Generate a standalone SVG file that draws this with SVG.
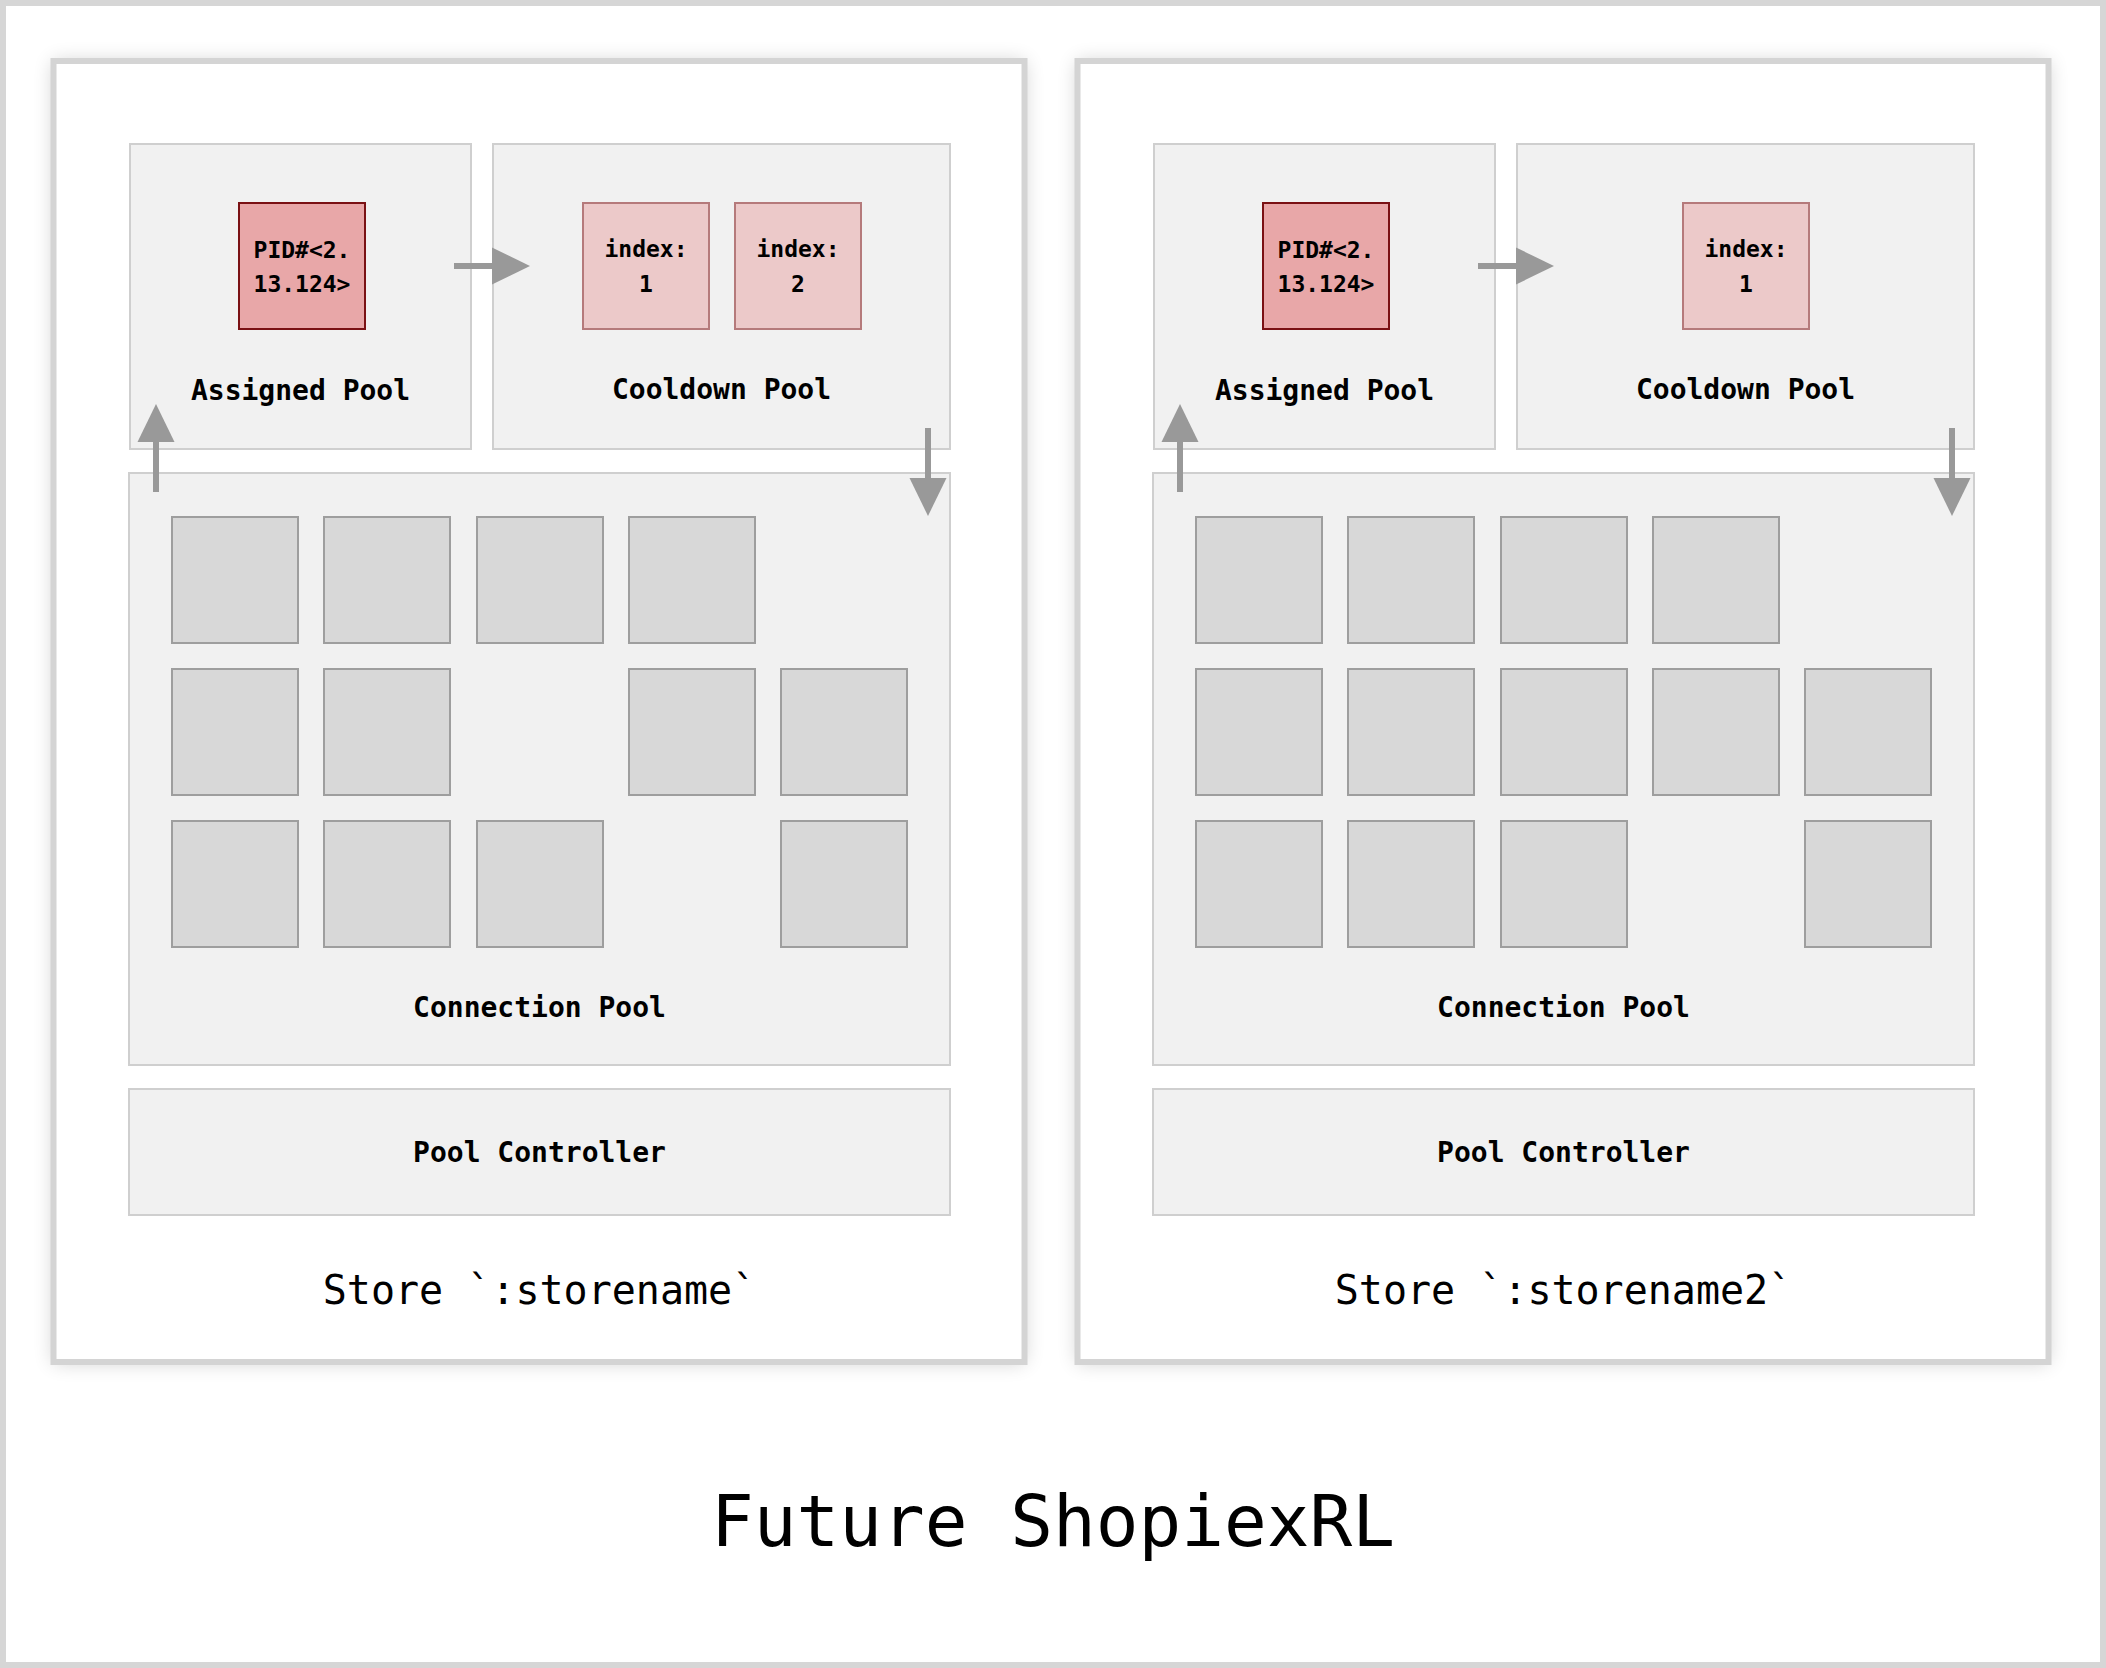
<svg xmlns="http://www.w3.org/2000/svg" width="2106" height="1668" viewBox="0 0 2106 1668">
<defs>
<style>
.pool{fill:#f1f1f1;stroke:#cfcfcf;stroke-width:2}
.cell{fill:#d8d8d8;stroke:#9e9e9e;stroke-width:2}
.pid{fill:#e8a7a8;stroke:#7a1114;stroke-width:2}
.idx{fill:#ecc9c9;stroke:#b57a7b;stroke-width:2}
.frame{fill:#ffffff;stroke:#d4d4d4;stroke-width:6}
.lbl{font-family:"DejaVu Sans Mono","Liberation Mono",monospace;font-weight:bold;font-size:28px;fill:#000;text-anchor:middle}
.sm{font-family:"DejaVu Sans Mono","Liberation Mono",monospace;font-weight:bold;font-size:23px;fill:#000;text-anchor:middle}
.store{font-family:"DejaVu Sans Mono","Liberation Mono",monospace;font-size:40px;fill:#000;text-anchor:middle}
.title{font-family:"DejaVu Sans Mono","Liberation Mono",monospace;font-size:71px;fill:#000;text-anchor:middle}
.stem{stroke:#999999;stroke-width:6;fill:none}
.head{fill:#999999}
</style>
<filter id="sh" x="-10%" y="-10%" width="120%" height="120%">
<feGaussianBlur stdDeviation="10"/>
</filter>
</defs>
<rect x="0" y="0" width="2106" height="1668" fill="#ffffff"/>
<rect x="3" y="3" width="2100" height="1662" fill="none" stroke="#d6d6d6" stroke-width="6"/>

<g id="store1">
<rect x="53" y="61" width="972" height="1302" fill="#000" opacity="0.18" filter="url(#sh)"/>
<rect class="frame" x="53.5" y="61" width="971" height="1301"/>
<text class="store" x="539.5" y="1304">Store `:storename`</text>
</g>
<g id="store2">
<rect x="1077" y="61" width="972" height="1302" fill="#000" opacity="0.18" filter="url(#sh)"/>
<rect class="frame" x="1077.5" y="61" width="971" height="1301"/>
<text class="store" x="1563.5" y="1304">Store `:storename2`</text>
</g>

<g id="assigned1">
<rect class="pool" x="130" y="144" width="341" height="305"/>
<text class="lbl" x="300.5" y="400">Assigned Pool</text>
</g>
<g id="pid1">
<rect class="pid" x="239" y="203" width="126" height="126"/>
<text class="sm" x="302" y="258">PID#&lt;2.</text>
<text class="sm" x="302" y="292">13.124&gt;</text>
</g>
<g id="cooldown1">
<rect class="pool" x="493" y="144" width="457" height="305"/>
<text class="lbl" x="721.5" y="399">Cooldown Pool</text>
</g>
<g id="idx1a">
<rect class="idx" x="583" y="203" width="126" height="126"/>
<text class="sm" x="646" y="257">index:</text>
<text class="sm" x="646" y="292">1</text>
</g>
<g id="idx1b">
<rect class="idx" x="735" y="203" width="126" height="126"/>
<text class="sm" x="798" y="257">index:</text>
<text class="sm" x="798" y="292">2</text>
</g>
<g id="conn1">
<rect class="pool" x="129" y="473" width="821" height="592"/>
<rect class="cell" x="172" y="517" width="126" height="126"/>
<rect class="cell" x="324" y="517" width="126" height="126"/>
<rect class="cell" x="477" y="517" width="126" height="126"/>
<rect class="cell" x="629" y="517" width="126" height="126"/>
<rect class="cell" x="172" y="669" width="126" height="126"/>
<rect class="cell" x="324" y="669" width="126" height="126"/>
<rect class="cell" x="629" y="669" width="126" height="126"/>
<rect class="cell" x="781" y="669" width="126" height="126"/>
<rect class="cell" x="172" y="821" width="126" height="126"/>
<rect class="cell" x="324" y="821" width="126" height="126"/>
<rect class="cell" x="477" y="821" width="126" height="126"/>
<rect class="cell" x="781" y="821" width="126" height="126"/>
<text class="lbl" x="539.5" y="1017">Connection Pool</text>
</g>
<g id="ctrl1">
<rect class="pool" x="129" y="1089" width="821" height="126"/>
<text class="lbl" x="539.5" y="1162">Pool Controller</text>
</g>

<g id="assigned2">
<rect class="pool" x="1154" y="144" width="341" height="305"/>
<text class="lbl" x="1324.5" y="400">Assigned Pool</text>
</g>
<g id="pid2">
<rect class="pid" x="1263" y="203" width="126" height="126"/>
<text class="sm" x="1326" y="258">PID#&lt;2.</text>
<text class="sm" x="1326" y="292">13.124&gt;</text>
</g>
<g id="cooldown2">
<rect class="pool" x="1517" y="144" width="457" height="305"/>
<text class="lbl" x="1745.5" y="399">Cooldown Pool</text>
</g>
<g id="idx2a">
<rect class="idx" x="1683" y="203" width="126" height="126"/>
<text class="sm" x="1746" y="257">index:</text>
<text class="sm" x="1746" y="292">1</text>
</g>
<g id="conn2">
<rect class="pool" x="1153" y="473" width="821" height="592"/>
<rect class="cell" x="1196" y="517" width="126" height="126"/>
<rect class="cell" x="1348" y="517" width="126" height="126"/>
<rect class="cell" x="1501" y="517" width="126" height="126"/>
<rect class="cell" x="1653" y="517" width="126" height="126"/>
<rect class="cell" x="1196" y="669" width="126" height="126"/>
<rect class="cell" x="1348" y="669" width="126" height="126"/>
<rect class="cell" x="1501" y="669" width="126" height="126"/>
<rect class="cell" x="1653" y="669" width="126" height="126"/>
<rect class="cell" x="1805" y="669" width="126" height="126"/>
<rect class="cell" x="1196" y="821" width="126" height="126"/>
<rect class="cell" x="1348" y="821" width="126" height="126"/>
<rect class="cell" x="1501" y="821" width="126" height="126"/>
<rect class="cell" x="1805" y="821" width="126" height="126"/>
<text class="lbl" x="1563.5" y="1017">Connection Pool</text>
</g>
<g id="ctrl2">
<rect class="pool" x="1153" y="1089" width="821" height="126"/>
<text class="lbl" x="1563.5" y="1162">Pool Controller</text>
</g>

<g id="connectors">
<line class="stem" x1="454" y1="266" x2="494" y2="266"/>
<polygon class="head" points="492,247.5 530,266 492,284.5"/>
<line class="stem" x1="156" y1="492" x2="156" y2="440"/>
<polygon class="head" points="137.5,442 156,404 174.5,442"/>
<line class="stem" x1="928" y1="428" x2="928" y2="480"/>
<polygon class="head" points="909.5,478 928,516 946.5,478"/>

<line class="stem" x1="1478" y1="266" x2="1518" y2="266"/>
<polygon class="head" points="1516,247.5 1554,266 1516,284.5"/>
<line class="stem" x1="1180" y1="492" x2="1180" y2="440"/>
<polygon class="head" points="1161.5,442 1180,404 1198.5,442"/>
<line class="stem" x1="1952" y1="428" x2="1952" y2="480"/>
<polygon class="head" points="1933.5,478 1952,516 1970.5,478"/>
</g>

<text class="title" x="1053" y="1546">Future ShopiexRL</text>
</svg>
